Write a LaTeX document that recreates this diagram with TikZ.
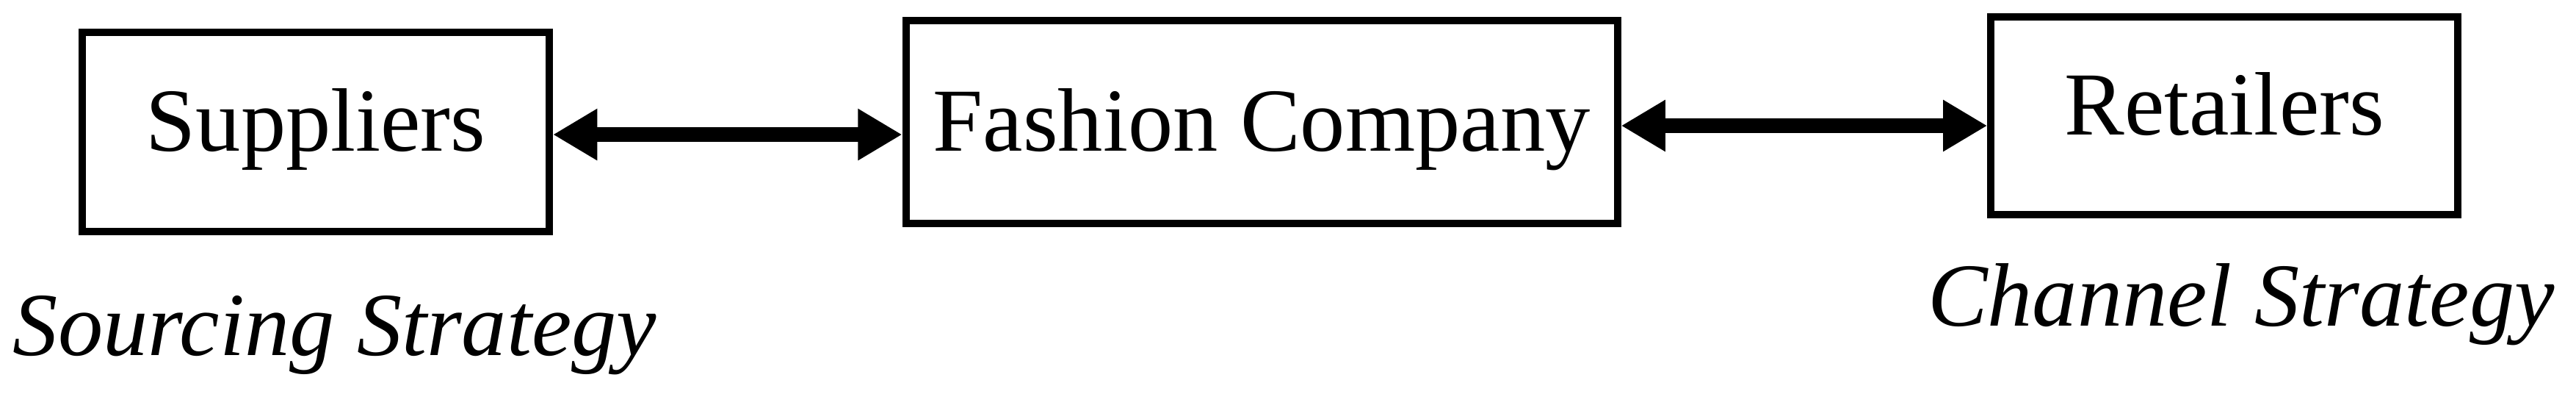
\documentclass[tikz,border=0pt]{standalone}
\usepackage{fontspec}
\setmainfont{Liberation Serif}
\usetikzlibrary{arrows.meta}
\newcommand{\fsz}{\fontsize{29.5}{35}\selectfont}

\begin{document}
\begin{tikzpicture}[>={Triangle[length=0.51cm,width=0.56cm]},
  actor/.style={draw, line width=2.4pt, inner sep=2pt, font=\fsz,
                text height=0.75cm, text depth=0.31cm},
  flow/.style={<->, line width=5pt}]
%  \draw[gray] (0,0) rectangle(29.70,4.53);
  \path[use as bounding box] (0,0) rectangle(29.70,4.53);
  \node[actor, minimum width=5.385cm, minimum height=2.295cm] (sup)  at ( 3.641,3.010) {Suppliers};
  \node[actor, minimum width=8.205cm, minimum height=2.337cm, text depth=0.09cm] (fash) at (14.546,3.124) {Fashion Company};
  \node[actor, minimum width=5.381cm, minimum height=2.282cm] (ret)  at (25.645,3.198) {Retailers};
  \draw[flow] ([yshift=-0.030cm]sup.east)  -- ([yshift=-0.030cm]sup.east -| fash.west);
  \draw[flow] ([yshift=-0.042cm]fash.east) -- ([yshift=-0.042cm]fash.east -| ret.west);
  \node[anchor=base west, font=\fsz\itshape, inner sep=0pt] (src) at ( 0.144,0.440) {Sourcing Strategy};
  \node[anchor=base west, font=\fsz\itshape, inner sep=0pt] (chn) at (22.217,0.774) {Channel Strategy};
\end{tikzpicture}
\end{document}
